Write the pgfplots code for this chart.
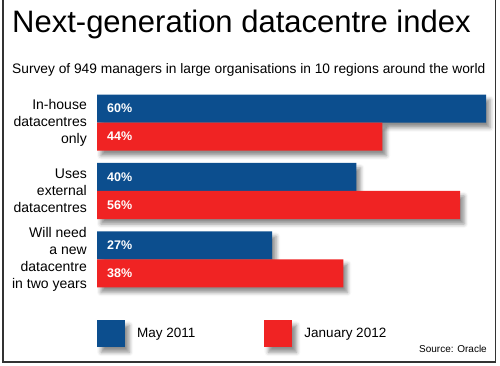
\documentclass[border=0pt]{standalone}
\usepackage{fontspec}
\setmainfont{Liberation Sans}
\usepackage{pgfplots}
\pgfplotsset{compat=1.18}
\usetikzlibrary{shadows.blur}
\definecolor{ctblue}{RGB}{12,78,142}
\definecolor{ctred}{RGB}{240,35,35}
\begin{document}
\begin{tikzpicture}[x=1pt,y=1pt]
\path[use as bounding box] (0,0) rectangle (500,366);
\draw[line width=1.3pt, black!80] (3,370) -- (3,4) -- (495.5,4) -- (495.5,370);
\node[anchor=base west, inner sep=0pt, font=\fontsize{31}{31}\selectfont] at (12,333) {Next-generation datacentre index};
\node[anchor=base west, inner sep=0pt, font=\fontsize{13.75}{16}\selectfont] at (12,292) {Survey of 949 managers in large organisations in 10 regions around the world};
\node[anchor=base east, inner sep=0pt, font=\fontsize{10}{12}\selectfont] at (487,13) {Source: Oracle};
\begin{axis}[
  at={(97pt,78pt)}, anchor=south west, scale only axis,
  width=389pt, height=194pt,
  xmin=0, xmax=60, ymin=-0.42, ymax=2.42,
  clip=false,
  xbar, bar width=0.41, bar shift=0pt,
  axis line style={draw=none}, tick style={draw=none}, major tick length=0pt,
  xtick=\empty, ytick={0,1,2},
  yticklabels={{Will need\\a new\\datacentre\\in two years},{Uses\\external\\datacentres},{In-house\\datacentres\\only}},
  yticklabel style={align=right, inner sep=0pt, xshift=-10pt, font=\fontsize{14}{17}\selectfont},
  legend image code/.code={\fill[#1] (0pt,-13.5pt) rectangle (28pt,13.5pt);},
  legend style={at={(0,-0.165)}, anchor=north west, draw=none, fill=none, inner sep=0pt,
    font=\fontsize{13.5}{16}\selectfont,
    /tikz/every odd column/.append style={column sep=10pt},
    /tikz/every even column/.append style={column sep=67pt}},
  legend columns=2,
]
\addplot[fill=ctblue, draw=none, blur shadow={shadow xshift=4pt, shadow yshift=-5pt, shadow blur radius=4pt, shadow opacity=45}]
  coordinates {(60,2.205) (40,1.205) (27,0.205)};
\addplot[fill=ctred, draw=none, blur shadow={shadow xshift=4pt, shadow yshift=-5pt, shadow blur radius=4pt, shadow opacity=45}]
  coordinates {(44,1.795) (56,0.795) (38,-0.205)};
\legend{May 2011, January 2012}
\foreach \yy/\lab in {2.205/60, 1.795/44, 1.205/40, 0.795/56, 0.205/27, -0.205/38} {
  \edef\tmp{\noexpand\node[anchor=west, text=white, inner sep=0pt, xshift=10pt, font=\noexpand\bfseries\noexpand\fontsize{12.5}{12.5}\noexpand\selectfont] at (axis cs:0,\yy) {\lab\noexpand\%};}
  \tmp
}
\end{axis}
\end{tikzpicture}
\end{document}
